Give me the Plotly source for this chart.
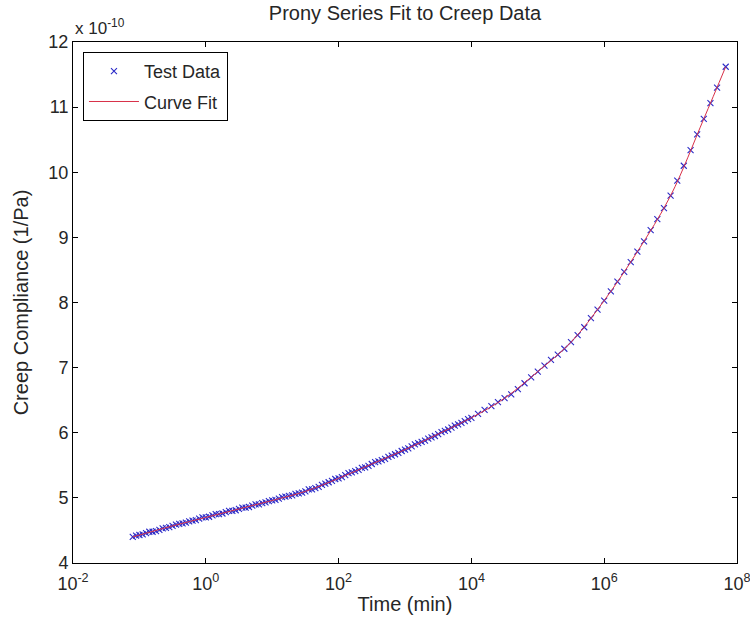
import plotly.graph_objects as go

# Test data: time (min) and creep compliance (units of 1e-10 1/Pa)
time_min = [
    7.94e-2, 1.00e-1, 1.26e-1, 1.58e-1, 2.00e-1, 2.51e-1, 3.16e-1, 3.98e-1, 5.01e-1, 6.31e-1, 7.94e-1,
    1.00e0, 1.26e0, 1.58e0, 2.00e0, 2.51e0, 3.16e0, 3.98e0, 5.01e0, 6.31e0, 7.94e0,
    1.00e1, 1.26e1, 1.58e1, 2.00e1, 2.51e1, 3.16e1, 3.98e1, 5.01e1, 6.31e1, 7.94e1,
    1.00e2, 1.26e2, 1.58e2, 2.00e2, 2.51e2, 3.16e2, 3.98e2, 5.01e2, 6.31e2, 7.94e2,
    1.00e3, 1.26e3, 1.58e3, 2.00e3, 2.51e3, 3.16e3, 3.98e3, 5.01e3, 6.31e3, 7.94e3,
    1.00e4, 1.26e4, 1.58e4, 2.00e4, 2.51e4, 3.16e4, 3.98e4, 5.01e4, 6.31e4, 7.94e4,
    1.00e5, 1.26e5, 1.58e5, 2.00e5, 2.51e5, 3.16e5, 3.98e5, 5.01e5, 6.31e5, 7.94e5,
    1.00e6, 1.26e6, 1.58e6, 2.00e6, 2.51e6, 3.16e6, 3.98e6, 5.01e6, 6.31e6, 7.94e6,
    1.00e7, 1.26e7, 1.58e7, 2.00e7, 2.51e7, 3.16e7, 3.98e7, 5.01e7, 6.76e7,
]
compliance_e10 = [
    4.40, 4.43, 4.46, 4.48, 4.51, 4.54, 4.57, 4.60, 4.62, 4.65, 4.68,
    4.70, 4.73, 4.75, 4.78, 4.80, 4.83, 4.85, 4.88, 4.90, 4.93,
    4.96, 4.99, 5.02, 5.04, 5.07, 5.10, 5.13, 5.17, 5.22, 5.26,
    5.30, 5.35, 5.39, 5.43, 5.47, 5.52, 5.56, 5.60, 5.65, 5.69,
    5.74, 5.79, 5.84, 5.88, 5.93, 5.98, 6.03, 6.08, 6.13, 6.18,
    6.23, 6.29, 6.35, 6.41, 6.47, 6.53, 6.59, 6.67, 6.76, 6.85,
    6.94, 7.03, 7.12, 7.20, 7.29, 7.39, 7.50, 7.62, 7.76, 7.89,
    8.03, 8.17, 8.32, 8.47, 8.62, 8.78, 8.94, 9.11, 9.28, 9.45,
    9.64, 9.87, 10.10, 10.34, 10.58, 10.82, 11.06, 11.30, 11.62,
]

# Second (overlapping) set of test readings at short/intermediate times
time_min_b = [
    8.91e-2, 1.12e-1, 1.41e-1, 1.78e-1, 2.24e-1, 2.82e-1, 3.55e-1, 4.47e-1, 5.62e-1, 7.08e-1, 8.91e-1,
    1.12e0, 1.41e0, 1.78e0, 2.24e0, 2.82e0, 3.55e0, 4.47e0, 5.62e0, 7.08e0, 8.91e0,
    1.12e1, 1.41e1, 1.78e1, 2.24e1, 2.82e1, 3.55e1, 4.47e1, 5.62e1, 7.08e1, 8.91e1,
    1.12e2, 1.41e2, 1.78e2, 2.24e2, 2.82e2, 3.55e2, 4.47e2, 5.62e2, 7.08e2, 8.91e2,
    1.12e3, 1.41e3, 1.78e3, 2.24e3, 2.82e3, 3.55e3, 4.47e3, 5.62e3, 7.08e3, 8.91e3,
]
compliance_e10_b = [
    4.42, 4.44, 4.48, 4.49, 4.53, 4.55, 4.59, 4.61, 4.64, 4.66, 4.70,
    4.71, 4.75, 4.76, 4.80, 4.81, 4.85, 4.86, 4.90, 4.92, 4.95,
    4.97, 5.01, 5.03, 5.06, 5.08, 5.13, 5.15, 5.20, 5.24, 5.29,
    5.32, 5.38, 5.41, 5.46, 5.49, 5.55, 5.58, 5.63, 5.67, 5.72,
    5.76, 5.82, 5.86, 5.91, 5.95, 6.01, 6.05, 6.11, 6.15, 6.21,
]

# Prony series curve fit
fit_time = [7.94e-2, 3.16e-1, 1e0, 3.16e0, 1e1, 3.16e1, 1e2, 3.16e2, 1e3, 3.16e3,
            1e4, 3.16e4, 1e5, 3.16e5, 1e6, 3.16e6, 1e7, 3.16e7, 6.76e7]
fit_e10 = [4.40, 4.57, 4.70, 4.83, 4.96, 5.10, 5.30, 5.52, 5.74, 5.98,
           6.23, 6.53, 6.94, 7.39, 8.03, 8.78, 9.64, 10.82, 11.62]

x_tickvals = [1e-2, 1e0, 1e2, 1e4, 1e6, 1e8]
x_ticktext = ["10<sup>-2</sup>", "10<sup>0</sup>", "10<sup>2</sup>", "10<sup>4</sup>",
              "10<sup>6</sup>", "10<sup>8</sup>"]
y_tickvals = [4, 5, 6, 7, 8, 9, 10, 11, 12]

FONT = "Liberation Sans, Arial, sans-serif"
TXT = "#262626"

fig = go.Figure()
fig.add_trace(go.Scatter(
    x=time_min + time_min_b, y=compliance_e10 + compliance_e10_b,
    mode="markers", name="Test Data", legendgroup="a",
    marker=dict(symbol="x-thin", size=6, line=dict(color="#2b2bc8", width=1.1), color="#2b2bc8"),
))
fig.add_trace(go.Scatter(
    x=fit_time, y=fit_e10, mode="lines", name="Curve Fit", legendgroup="b",
    line=dict(color="#d83048", width=1, shape="spline"),
))

axis_common = dict(
    showline=True, linecolor="black", linewidth=1, mirror="ticks",
    ticks="inside", ticklen=5, tickcolor="black", showgrid=False, zeroline=False,
    tickfont=dict(family=FONT, size=18, color=TXT), automargin=False,
    ticklabeloverflow="allow",
)

fig.update_xaxes(type="log", range=[-2, 8], tickvals=x_tickvals, ticktext=x_ticktext,
                 ticklabelstandoff=4,
                 title=dict(text="Time (min)", font=dict(family=FONT, size=20, color=TXT), standoff=4),
                 **axis_common)
fig.update_yaxes(range=[4, 12], tickvals=y_tickvals,
                 title=dict(text="Creep Compliance (1/Pa)", font=dict(family=FONT, size=20, color=TXT), standoff=14),
                 **axis_common)

fig.update_layout(
    width=750, height=632,
    margin=dict(l=73, r=13, t=42, b=69),
    paper_bgcolor="white", plot_bgcolor="white",
    title=dict(text="Prony Series Fit to Creep Data", x=0.54, xanchor="center",
               y=0.99, yanchor="top", font=dict(family=FONT, size=20, color=TXT)),
    legend=dict(x=0.015, y=0.981, xanchor="left", yanchor="top",
                bordercolor="black", borderwidth=1, bgcolor="white",
                font=dict(family=FONT, size=18, color=TXT),
                traceorder="grouped", tracegroupgap=4, itemwidth=50),
    showlegend=True,
)
fig.add_annotation(text="x 10<sup>-10</sup>", xref="paper", yref="paper",
                   x=0.0, y=1.0, xanchor="left", yanchor="bottom", showarrow=False,
                   font=dict(family=FONT, size=17, color=TXT), yshift=2)

fig.write_html("out.html")
